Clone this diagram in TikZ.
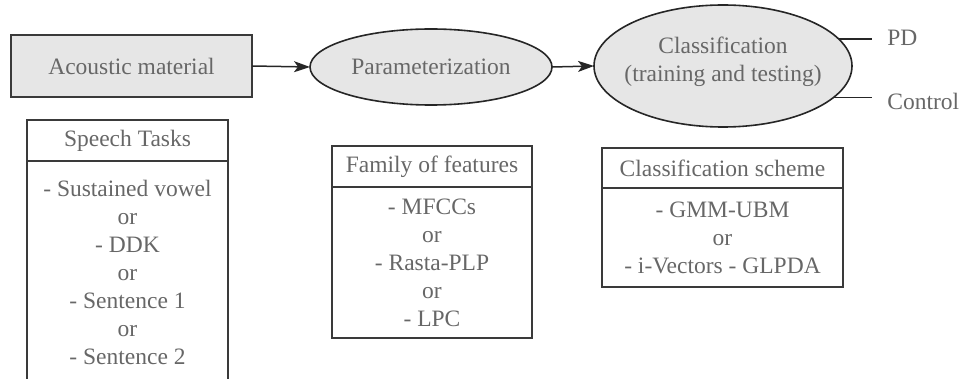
\documentclass[tikz,border=0pt]{standalone}
\usepackage{fontspec}
\setmainfont{Liberation Serif}
\usetikzlibrary{shapes.geometric,arrows.meta}
\definecolor{txt}{HTML}{676767}
\definecolor{edge}{HTML}{3A3A3A}
\definecolor{fillgray}{HTML}{E6E6E6}
\tikzset{
  base/.style={font=\fontsize{23.5pt}{28pt}\selectfont, text=txt, outer sep=0pt},
  procbox/.style={base, draw=edge, line width=1.6pt, fill=fillgray, inner sep=0pt},
  procell/.style={base, ellipse, draw=black!85, line width=1.6pt, fill=fillgray, inner sep=0pt},
  headbox/.style={base, draw=edge, line width=1.8pt, inner sep=0pt, minimum width=#1, minimum height=41pt},
  bodybox/.style={base, draw=edge, line width=1.8pt, inner xsep=0pt, minimum width=#1, align=center, anchor=north},
  flow/.style={line width=1.5pt, draw=black!85, -{Stealth[length=16pt,width=11pt,inset=4pt]}},
  outline/.style={line width=1.5pt, draw=black!85},
}
\begin{document}
\begin{tikzpicture}[x=1pt,y=-1pt]
\clip (0,0) rectangle (963,379);
\useasboundingbox (0,0) rectangle (963,379);

\node[procbox, minimum width=241pt, minimum height=62pt] (am) at (131.5,66) {Acoustic material};
\node[procell, minimum width=242pt, minimum height=76pt] (param) at (431,67) {Parameterization};
\node[procell, minimum width=258pt, minimum height=122pt] (class) at (723,66)
  {\makebox[0pt]{\smash{\raisebox{-2pt}{\begin{tabular}{@{}c@{}}Classification\\(training and testing)\end{tabular}}}}};

\draw[flow] (am.east) -- (param.west);
\draw[flow] (param.east) -- (class.west);

\coordinate (outx) at (872,0);
\draw[outline] (class.13.7) -- (class.13.7 -| outx);
\draw[outline] (class.-16.2) -- (class.-16.2 -| outx);
\node[base, anchor=west] (pd) at (884,38) {PD};
\node[base, anchor=west] (ctrl) at (884,101) {Control};

% Speech tasks
\node[headbox=201pt] (sth) at (127.5,140.5) {Speech Tasks};
\node[bodybox=201pt, inner ysep=19pt] (stb) at (sth.south)
  {- Sustained vowel\\or\\- DDK\\or\\- Sentence 1\\or\\- Sentence 2};

% Family of features
\node[headbox=200pt] (ffh) at (432,166.5) {Family of features};
\node[bodybox=200pt, inner ysep=11.5pt] (ffb) at (ffh.south)
  {- MFCCs\\or\\- Rasta-PLP\\or\\- LPC};

% Classification scheme
\node[headbox=241pt, minimum height=40pt] (csh) at (722.5,168) {Classification scheme};
\node[bodybox=241pt, inner ysep=13.5pt] (csb) at (csh.south)
  {- GMM-UBM\\or\\- i-Vectors - GLPDA};
\end{tikzpicture}
\end{document}
